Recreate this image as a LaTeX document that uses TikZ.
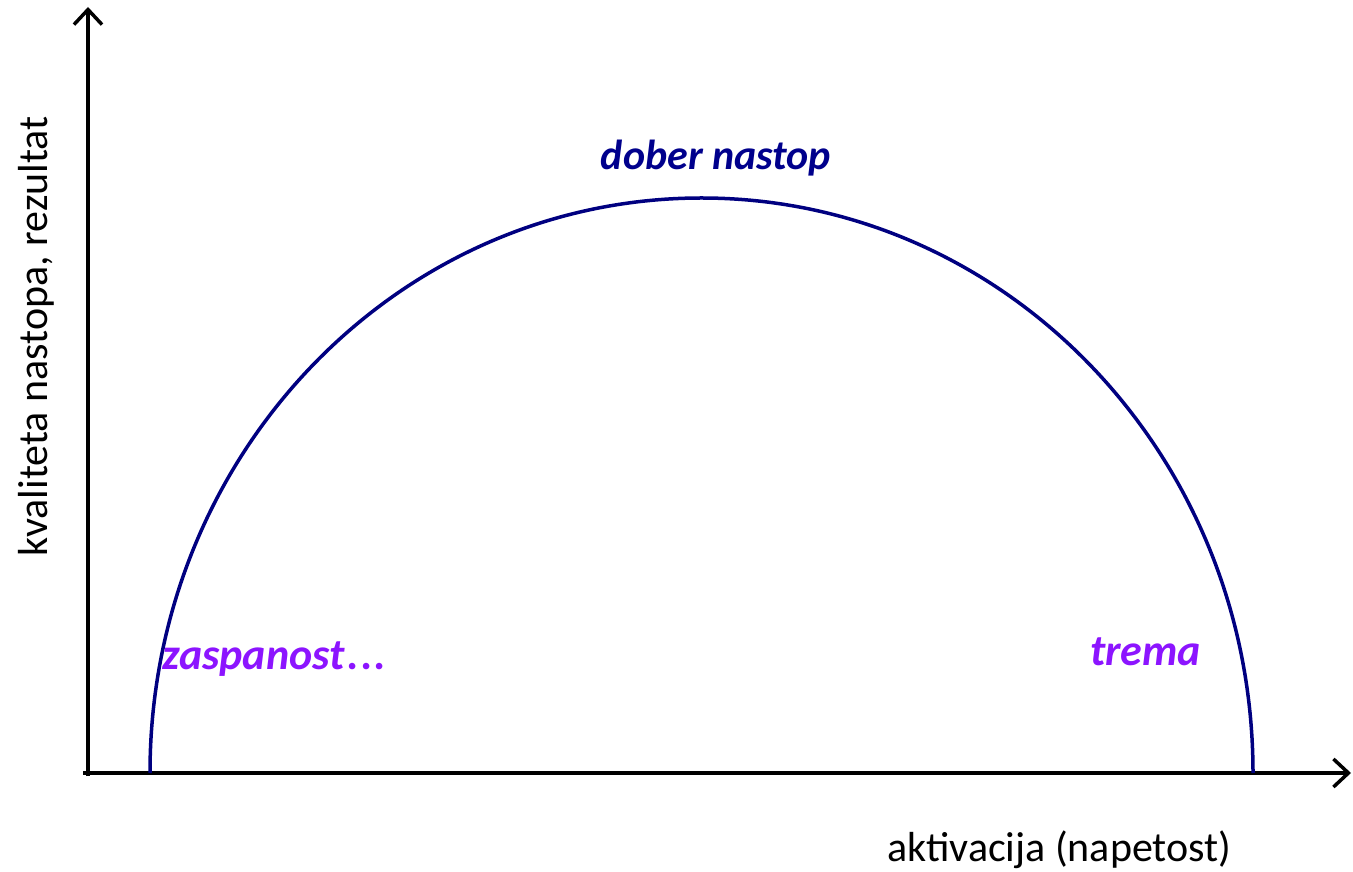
\documentclass[tikz,border=0pt]{standalone}
\usepackage{fontspec}
\setmainfont{Carlito}
\usetikzlibrary{arrows.meta}
\definecolor{curvenavy}{RGB}{0,0,128}
\definecolor{textnavy}{RGB}{0,0,140}
\definecolor{violetlbl}{RGB}{140,20,255}
\tikzset{
  axisline/.style={line width=3.5pt, black, -{Straight Barb[length=15pt,width=28pt,line width=3.5pt]}},
  curveline/.style={line width=3.5pt, curvenavy},
  statelbl/.style={font=\fontsize{44}{50}\selectfont\bfseries\itshape, inner sep=0pt},
  axislbl/.style={font=\fontsize{42}{48}\selectfont, inner sep=0pt, black}
}
\begin{document}
\begin{tikzpicture}[x=1pt,y=1pt]
\useasboundingbox (0,0) rectangle (1353,871);
\coordinate (ystart) at (88,95);
\coordinate (xstart) at (83,98);
\coordinate (ytip) at (88,864);
\coordinate (xtip) at (1351,98);
\coordinate (cl) at (150,98);
\draw[axisline] (ystart) -- (ytip);
\draw[axisline] (xstart) -- (xtip);
\draw[curveline] (cl) arc[start angle=180, end angle=0, x radius=551.5, y radius=575];
\node[statelbl, textnavy, anchor=base, font=\fontsize{42}{48}\selectfont\bfseries\itshape] (good) at (716,701) {dober nastop};
\node[statelbl, violetlbl, anchor=base west] (sleepy) at (162,201) {zaspanost\hspace{3pt}.\hspace{2pt}.\hspace{2pt}.};
\node[statelbl, violetlbl, anchor=base west] (fright) at (1090,205) {trema};
\node[axislbl, anchor=base west] (xlabel) at (887,10) {aktivacija (napetost)};
\node[axislbl, anchor=base west, rotate=90] (ylabel) at (47,314) {kvaliteta nastopa, rezultat};
\end{tikzpicture}
\end{document}
